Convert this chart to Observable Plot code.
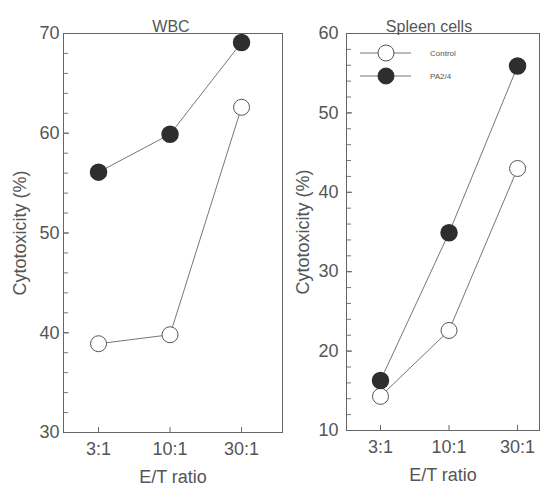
<!DOCTYPE html>
<html>
<head>
<meta charset="utf-8">
<script src="https://cdn.jsdelivr.net/npm/d3@7"></script>
<script src="https://cdn.jsdelivr.net/npm/@observablehq/plot@0.6"></script>
<style>
  html, body { margin: 0; padding: 0; background: white; }
  #wrap { position: relative; width: 540px; height: 485px; overflow: hidden; background: white; }
  #wrap > * { position: absolute; top: 0; }
</style>
</head>
<body>
<div id="wrap"></div>
<script>
const categories = ["3:1", "10:1", "30:1"];
const seriesNames = ["Control", "PA2/4"];
const wbcControl = [38.9, 39.8, 62.6];
const wbcPA = [56.1, 59.9, 69.1];
const spleenControl = [14.3, 22.6, 43.0];
const spleenPA = [16.3, 34.9, 55.9];
const wbcYTicks = [30, 40, 50, 60, 70];
const spleenYTicks = [10, 20, 30, 40, 50, 60];
const titles = ["WBC", "Spleen cells"];
const yLabel = "Cytotoxicity (%)";
const xLabel = "E/T ratio";

const FONT = "'Liberation Sans', Arial, Helvetica, sans-serif";
const INK = "#555";
const HEIGHT = 485, MT = 33;

function rows(vals) { return vals.map((v, i) => ({i, cat: categories[i], v})); }
function minor(lo, hi) { const a = []; for (let t = lo; t <= hi; t += 2) a.push(t); return a; }

function panel({width, marginLeft, marginRight, marginBottom, xDomain, yDomain, yTicks, control, pa, title, titleDx, tickPad}) {
  const c = rows(control), p = rows(pa);
  const fw = width - marginLeft - marginRight;
  const fh = HEIGHT - MT - marginBottom;
  return Plot.plot({
    width, height: HEIGHT, marginLeft, marginRight, marginTop: MT, marginBottom,
    style: {fontFamily: FONT, fontSize: "17px", color: INK, background: "white"},
    x: {type: "linear", domain: xDomain},
    y: {domain: yDomain},
    marks: [
      Plot.ruleY(minor(yDomain[0], yDomain[1]), {insetRight: fw - 5, stroke: "#777"}),
      Plot.ruleY(yTicks, {insetRight: fw - 6, stroke: "#666"}),
      Plot.ruleX([0, 1, 2], {insetTop: fh - 5, stroke: "#666"}),
      Plot.frame({stroke: "#666"}),
      Plot.axisY({ticks: yTicks, tickSize: 0, tickPadding: tickPad, fontSize: 18, label: yLabel, labelAnchor: "center", labelOffset: 50, labelArrow: "none"}),
      Plot.axisX({ticks: [0, 1, 2], tickSize: 0, tickPadding: 10, fontSize: 18, tickFormat: i => categories[i], label: xLabel, labelAnchor: "center", labelOffset: 50, labelArrow: "none"}),
      Plot.line(c, {x: "i", y: "v", stroke: "#777", strokeWidth: 1}),
      Plot.line(p, {x: "i", y: "v", stroke: "#777", strokeWidth: 1}),
      Plot.dot(c, {x: "i", y: "v", r: 8, fill: "white", stroke: "#555", strokeWidth: 1}),
      Plot.dot(p, {x: "i", y: "v", r: 8, fill: "#2e2e2e", stroke: "#2e2e2e"}),
      Plot.text([title], {text: d => d, frameAnchor: "top", dy: -13, dx: titleDx, fontSize: 16, fill: INK})
    ]
  });
}

const wrap = document.getElementById("wrap");

const left = panel({
  width: 290, marginLeft: 63, marginRight: 8, marginBottom: 53,
  xDomain: [-0.49, 2.573], yDomain: [30, 70], yTicks: wbcYTicks,
  control: wbcControl, pa: wbcPA, title: titles[0], titleDx: -2, tickPad: 4
});
left.style.left = "0px";
wrap.appendChild(left);

const right = panel({
  width: 250, marginLeft: 56, marginRight: 1, marginBottom: 55,
  xDomain: [-0.496, 2.32], yDomain: [10, 60], yTicks: spleenYTicks,
  control: spleenControl, pa: spleenPA, title: titles[1], titleDx: -14, tickPad: 8
});
right.style.left = "290px";
wrap.appendChild(right);

// Legend overlay
const leg = d3.create("svg").attr("width", 540).attr("height", 485).style("pointer-events", "none");
const items = [
  {name: seriesNames[0], y: 53, fill: "white", stroke: "#555"},
  {name: seriesNames[1], y: 76, fill: "#2e2e2e", stroke: "#2e2e2e"}
];
const g = leg.selectAll("g").data(items).join("g").attr("transform", d => `translate(0,${d.y})`);
g.append("line").attr("x1", 360).attr("x2", 411).attr("stroke", "#777");
g.append("circle").attr("cx", 386).attr("r", 8).attr("fill", d => d.fill).attr("stroke", d => d.stroke);
g.append("text").attr("x", 430).attr("dy", "0.35em").attr("font-family", FONT).attr("font-size", 8).attr("fill", INK).text(d => d.name);
leg.node().style.left = "0px";
wrap.appendChild(leg.node());
</script>
</body>
</html>
